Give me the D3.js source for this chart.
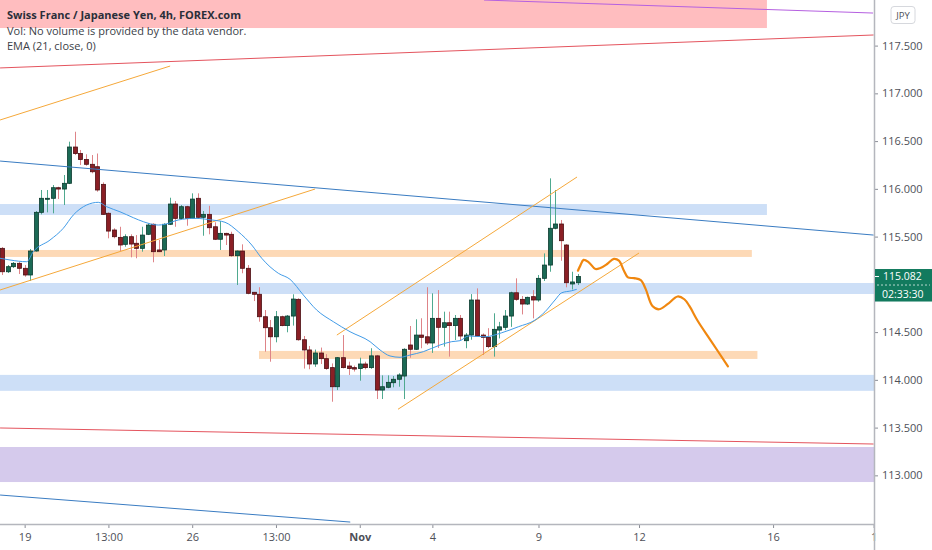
<!DOCTYPE html>
<html>
<head>
<meta charset="utf-8">
<script src="https://cdn.jsdelivr.net/npm/d3@7/dist/d3.min.js"></script>
<style>
    body { margin: 0; background: #fff; }
    svg { display: block; font-family: "Open Sans", sans-serif; }
</style>
</head>
<body>
<svg id="chart" width="932" height="550"></svg>
<script>
//4h candles, bar 0 = first visible bar (Oct 18/19)
var opens = [115.377, 115.132, 115.185, 115.220, 115.168, 115.098, 115.349, 115.754, 115.893, 115.901,
    116.012, 115.998, 116.058, 116.438, 116.370, 116.307, 116.257, 116.232, 116.047, 115.744,
    115.569, 115.492, 115.419, 115.499, 115.430, 115.377, 115.524, 115.629, 115.360, 115.360,
    115.629, 115.841, 115.691, 115.813, 115.691, 115.901, 115.702, 115.733, 115.603, 115.472,
    115.534, 115.524, 115.300, 115.349, 115.168, 114.917, 114.896, 114.661, 114.546, 114.451,
    114.661, 114.568, 114.668, 114.843, 114.420, 114.313, 114.166, 114.281, 114.222, 114.128,
    113.928, 114.232, 114.145, 114.128, 114.118, 114.166, 114.128, 114.251, 113.893, 113.922,
    113.970, 114.006, 114.040, 114.365, 114.320, 114.469, 114.451, 114.386, 114.644, 114.550,
    114.598, 114.568, 114.644, 114.410, 114.469, 114.836, 114.469, 114.445, 114.348, 114.521,
    114.550, 114.668, 114.912, 114.843, 114.794, 114.871, 114.836, 115.063, 115.202, 115.587,
    115.632, 115.412, 115.004, 115.017];
var highs = [115.391, 115.202, 115.234, 115.237, 115.202, 115.370, 115.768, 115.988, 115.988, 116.040,
    116.022, 116.145, 116.494, 116.598, 116.407, 116.362, 116.354, 116.370, 116.068, 115.754,
    115.587, 115.603, 115.524, 115.524, 115.516, 115.603, 115.639, 115.639, 115.464, 115.639,
    115.907, 115.873, 115.831, 115.823, 115.953, 115.953, 115.768, 115.823, 115.650, 115.663,
    115.540, 115.551, 115.355, 115.419, 115.202, 114.920, 114.970, 114.731, 114.627, 114.721,
    114.672, 114.679, 114.896, 114.854, 114.459, 114.355, 114.317, 114.338, 114.269, 114.172,
    114.239, 114.469, 114.190, 114.149, 114.232, 114.190, 114.331, 114.261, 114.047, 114.047,
    114.040, 114.069, 114.331, 114.564, 114.634, 114.645, 114.970, 114.906, 114.940, 114.714,
    114.714, 114.679, 114.679, 114.490, 114.898, 114.958, 114.486, 114.541, 114.697, 114.607,
    114.731, 114.923, 115.063, 114.878, 114.871, 114.940, 115.098, 115.324, 116.110, 115.988,
    115.674, 115.422, 115.132, 115.108];
var lows = [115.098, 115.119, 115.171, 115.108, 115.080, 115.035, 115.342, 115.733, 115.754, 115.744,
    115.893, 115.831, 116.050, 116.354, 116.250, 116.242, 116.163, 115.970, 115.726, 115.482,
    115.482, 115.349, 115.394, 115.283, 115.273, 115.342, 115.516, 115.231, 115.338, 115.297,
    115.621, 115.603, 115.684, 115.614, 115.684, 115.691, 115.509, 115.524, 115.464, 115.360,
    115.412, 115.289, 114.993, 115.116, 114.896, 114.825, 114.609, 114.295, 114.190, 114.393,
    114.561, 114.498, 114.568, 114.410, 114.118, 114.111, 114.136, 114.166, 114.105, 113.771,
    113.893, 114.120, 114.051, 114.087, 113.991, 114.110, 114.115, 113.799, 113.799, 113.912,
    113.922, 113.928, 113.799, 114.232, 114.313, 114.331, 114.365, 114.282, 114.334, 114.348,
    114.243, 114.417, 114.417, 114.331, 114.420, 114.451, 114.260, 114.331, 114.243, 114.434,
    114.521, 114.555, 114.828, 114.685, 114.784, 114.644, 114.818, 115.035, 115.132, 115.576,
    115.247, 114.969, 114.946, 114.993];
var closes = [115.132, 115.185, 115.220, 115.168, 115.098, 115.349, 115.754, 115.901, 115.901, 116.012,
    115.998, 116.058, 116.438, 116.370, 116.307, 116.257, 116.179, 115.988, 115.733, 115.558,
    115.499, 115.412, 115.499, 115.422, 115.377, 115.516, 115.621, 115.342, 115.342, 115.629,
    115.841, 115.691, 115.813, 115.691, 115.893, 115.702, 115.733, 115.593, 115.472, 115.534,
    115.516, 115.300, 115.349, 115.168, 114.906, 114.896, 114.661, 114.546, 114.451, 114.661,
    114.568, 114.668, 114.846, 114.420, 114.313, 114.166, 114.281, 114.222, 114.118, 113.928,
    114.232, 114.128, 114.118, 114.113, 114.166, 114.128, 114.251, 113.893, 113.928, 113.974,
    114.006, 114.051, 114.320, 114.320, 114.469, 114.445, 114.386, 114.644, 114.550, 114.598,
    114.568, 114.644, 114.459, 114.469, 114.836, 114.459, 114.445, 114.348, 114.529, 114.555,
    114.668, 114.912, 114.843, 114.794, 114.864, 114.836, 115.063, 115.202, 115.587, 115.632,
    115.457, 115.017, 115.025, 115.082];

var lastPrice = 115.082;
var countdown = "02:33:30";

//EMA (21, close)
var emaIndex = [-0.41, 1.38, 4.37, 5.55, 8.54, 10.92, 12.71, 15.11, 17.19, 18.69, 21.07, 23.46, 25.25,
    27.93, 29.13, 31.51, 34.5, 37.49, 39.87, 42.26, 44.66, 46.45, 49.42, 51.51, 53.89, 56.29, 59.27,
    62.26, 65.84, 67.63, 69.42, 71.21, 73.0, 75.38, 78.37, 80.47, 81.95, 83.44, 86.43, 89.42, 92.39,
    95.38, 97.17, 98.96, 100.16, 101.95, 102.85];
var emaValue = [115.273, 115.255, 115.237, 115.342, 115.464, 115.587, 115.726, 115.831, 115.859, 115.813,
    115.76, 115.698, 115.656, 115.621, 115.629, 115.674, 115.691, 115.674, 115.65, 115.551, 115.412,
    115.273, 115.116, 115.053, 114.889, 114.731, 114.609, 114.504, 114.4, 114.313, 114.25, 114.236,
    114.26, 114.295, 114.365, 114.4, 114.41, 114.459, 114.451, 114.493, 114.556, 114.626, 114.713,
    114.836, 114.912, 114.933, 114.948];

//price axis (115.000 sits under the last price tag) and time axis
var yTicks = [113, 113.5, 114, 114.5, 115.5, 116, 116.5, 117, 117.5];
var xTickIndex = [4, 19, 34, 49, 64, 77, 96, 114, 138, 156];
var xTickLabels = ["19", "13:00", "26", "13:00", "Nov", "4", "9", "12", "16", "1"];
var xTickBold = ["Nov"];

//rectangles drawn on the chart: bar range and price range
var zoneKind = ["pink", "blue", "orange", "blue", "orange", "blue", "purple"];
var zoneFrom = [-1, -1, -1, -1, 45.96, -1, -1];
var zoneTo = [136.9, 136.9, 134.2, 170, 135.2, 170, 170];
var zoneLow = [117.684, 115.726, 115.287, 114.899, 114.219, 113.885, 112.930];
var zoneHigh = [118.4, 115.841, 115.360, 115.014, 114.303, 114.052, 113.297];

//trend lines: start bar/price, end bar/price
var lineKind = ["purple", "red", "orange", "blue", "orange", "orange", "orange", "red", "blue"];
var lineBar0 = [86.25, -0.4, -0.4, -0.4, -0.4, 59.9, 70.85, -0.4, -0.4];
var linePrice0 = [117.977, 117.266, 116.721, 116.291, 114.941, 114.469, 113.692, 113.496, 112.794];
var lineBar1 = [155.9, 156, 30.05, 156, 56.0, 102.9, 114.0, 156, 62.3];
var linePrice1 = [117.841, 117.611, 117.286, 115.516, 115.998, 116.124, 115.328, 113.328, 112.511];

//hand drawn projection path
var pathIndex = [103.06, 103.49, 104.08, 105.0, 106.19, 107.09, 108.29, 109.49, 110.4, 111.3, 112.01,
    113.11, 114.31, 115.2, 116.4, 117.6, 119.1, 120.91, 122.11, 123.01, 124.52, 126.91, 129.92];
var pathValue = [115.143, 115.196, 115.256, 115.231, 115.160, 115.171, 115.213, 115.266, 115.248, 115.143,
    115.073, 115.065, 115.044, 114.950, 114.774, 114.739, 114.792, 114.873, 114.844, 114.774, 114.616,
    114.406, 114.142];

//layout
const W = 932, H = 550;
const plotW = 874, plotH = 524;
const fontSize = "11px";

const zoneColor = { pink: "#ffbdbf", blue: "#cddff7", orange: "#fdd9b6", purple: "#d5caec" };
const lineColor = { purple: "#b560e0", red: "#e4545e", orange: "#f5a83a", blue: "#3a7cc2" };

var svg = d3.select("#chart");

var x = d3.scaleLinear().domain([0, 156]).range([2.3, 873.6]);
var y = d3.scaleLinear().domain([113, 117.5]).range([475.35, 45.6]);

svg.append("defs").append("clipPath")
    .attr("id", "plotClip")
    .append("rect")
    .attr("width", plotW)
    .attr("height", plotH);

var plot = svg.append("g").attr("clip-path", "url(#plotClip)");

//zones
plot.selectAll("rect.zone")
    .data(zoneKind)
    .enter()
    .append("rect")
    .attr("class", "zone")
    .attr("x", (d, i) => x(zoneFrom[i]))
    .attr("width", (d, i) => x(zoneTo[i]) - x(zoneFrom[i]))
    .attr("y", (d, i) => y(zoneHigh[i]))
    .attr("height", (d, i) => y(zoneLow[i]) - y(zoneHigh[i]))
    .attr("fill", d => zoneColor[d]);

//candles
var bars = d3.range(opens.length);
var bodyW = 4;
var up = i => closes[i] >= opens[i];

plot.selectAll("line.wick")
    .data(bars)
    .enter()
    .append("line")
    .attr("class", "wick")
    .attr("x1", i => Math.round(x(i)) + 0.5)
    .attr("x2", i => Math.round(x(i)) + 0.5)
    .attr("y1", i => y(highs[i]))
    .attr("y2", i => y(lows[i]))
    .attr("stroke", i => up(i) ? "#4fa98f" : "#de8488")
    .attr("stroke-width", 1);

plot.selectAll("rect.body")
    .data(bars)
    .enter()
    .append("rect")
    .attr("class", "body")
    .attr("x", i => Math.round(x(i)) + 0.5 - bodyW / 2)
    .attr("width", bodyW)
    .attr("y", i => y(Math.max(opens[i], closes[i])))
    .attr("height", i => Math.max(1, Math.abs(y(opens[i]) - y(closes[i]))))
    .attr("fill", i => up(i) ? "#1b6a55" : "#8a1f25")
    .attr("stroke", i => up(i) ? "#0c3a2e" : "#4b1014")
    .attr("stroke-width", 0.8);

//trend lines
plot.selectAll("line.trend")
    .data(lineKind)
    .enter()
    .append("line")
    .attr("class", "trend")
    .attr("x1", (d, i) => x(lineBar0[i]))
    .attr("y1", (d, i) => y(linePrice0[i]))
    .attr("x2", (d, i) => x(lineBar1[i]))
    .attr("y2", (d, i) => y(linePrice1[i]))
    .attr("stroke", d => lineColor[d])
    .attr("stroke-width", 1);

//EMA
plot.append("path")
    .datum(d3.range(emaIndex.length))
    .attr("fill", "none")
    .attr("stroke", "#429ce8")
    .attr("stroke-width", 1)
    .attr("d", d3.line()
        .x(i => x(emaIndex[i]))
        .y(i => y(emaValue[i]))
        .curve(d3.curveMonotoneX));

//projection
plot.append("path")
    .datum(d3.range(pathIndex.length))
    .attr("fill", "none")
    .attr("stroke", "#f0870f")
    .attr("stroke-width", 2.2)
    .attr("stroke-linecap", "round")
    .attr("d", d3.line()
        .x(i => x(pathIndex[i]))
        .y(i => y(pathValue[i]))
        .curve(d3.curveCatmullRom));

//price axis
var yAxis = svg.append("g")
    .attr("transform", `translate(${plotW}, 0)`)
    .call(d3.axisRight(y).tickValues(yTicks).tickFormat(d3.format(".3f")).tickSize(4).tickPadding(4));
yAxis.select(".domain").remove();
yAxis.selectAll("line").attr("stroke", "#8a8d96");
yAxis.selectAll("text")
    .attr("fill", "#4e5058")
    .style("font-size", fontSize)
    .style("font-family", "Open Sans, sans-serif");

//time axis
var xAxis = svg.append("g")
    .attr("transform", `translate(0, ${plotH})`)
    .call(d3.axisBottom(x).tickValues(xTickIndex)
        .tickFormat((d, i) => xTickLabels[i]).tickSize(4).tickPadding(5));
xAxis.select(".domain").remove();
xAxis.selectAll("line").attr("stroke", "#8a8d96");
xAxis.selectAll("text")
    .attr("fill", "#4e5058")
    .style("font-size", fontSize)
    .style("font-family", "Open Sans, sans-serif")
    .style("font-weight", d => xTickBold.indexOf(xTickLabels[xTickIndex.indexOf(d)]) >= 0 ? "bold" : "normal");

//axis borders
svg.append("line")
    .attr("x1", 0).attr("x2", plotW)
    .attr("y1", plotH + 0.5).attr("y2", plotH + 0.5)
    .attr("stroke", "#b4b6bd").attr("stroke-width", 1.5);
svg.append("line")
    .attr("x1", plotW + 0.5).attr("x2", plotW + 0.5)
    .attr("y1", 0).attr("y2", H)
    .attr("stroke", "#b4b6bd").attr("stroke-width", 1.5);

//last price label
var py = y(lastPrice);
var tag = svg.append("g");
tag.append("rect")
    .attr("x", plotW + 1)
    .attr("y", py - 7.5)
    .attr("width", W - plotW - 1)
    .attr("height", 32.5)
    .attr("fill", "#127a5e");
tag.append("line")
    .attr("x1", plotW + 1).attr("x2", plotW + 5)
    .attr("y1", py).attr("y2", py)
    .attr("stroke", "#fff");
tag.append("line")
    .attr("x1", plotW + 3).attr("x2", W - 2)
    .attr("y1", py + 8.5).attr("y2", py + 8.5)
    .attr("stroke", "#fff")
    .attr("stroke-dasharray", "2,2")
    .attr("stroke-opacity", 0.7);
tag.append("text")
    .attr("x", plotW + 9)
    .attr("y", py + 3.5)
    .attr("fill", "#fff")
    .style("font-size", "10.5px")
    .text(d3.format(".3f")(lastPrice));
tag.append("text")
    .attr("x", plotW + 8)
    .attr("y", py + 21)
    .attr("fill", "#fff")
    .style("font-size", "10.5px")
    .text(countdown);

//currency badge
svg.append("rect")
    .attr("x", 891).attr("y", 6.5)
    .attr("width", 24).attr("height", 17)
    .attr("rx", 3)
    .attr("fill", "#fff")
    .attr("stroke", "#d6d8dd");
svg.append("text")
    .attr("x", 903).attr("y", 18.5)
    .attr("text-anchor", "middle")
    .attr("fill", "#4e5058")
    .style("font-size", "9.5px")
    .text("JPY");

//legend
var legend = [
    { t: "Swiss Franc / Japanese Yen, 4h, FOREX.com", w: "bold" },
    { t: "Vol: No volume is provided by the data vendor.", w: "normal" },
    { t: "EMA (21, close, 0)", w: "normal" }
];
svg.selectAll("text.legend")
    .data(legend)
    .enter()
    .append("text")
    .attr("class", "legend")
    .attr("x", 7)
    .attr("y", (d, i) => 19 + i * 15.5)
    .attr("fill", d => d.w == "bold" ? "#2a2e39" : "#3b3e47")
    .style("font-size", fontSize)
    .style("font-weight", d => d.w)
    .text(d => d.t);
</script>
</body>
</html>
